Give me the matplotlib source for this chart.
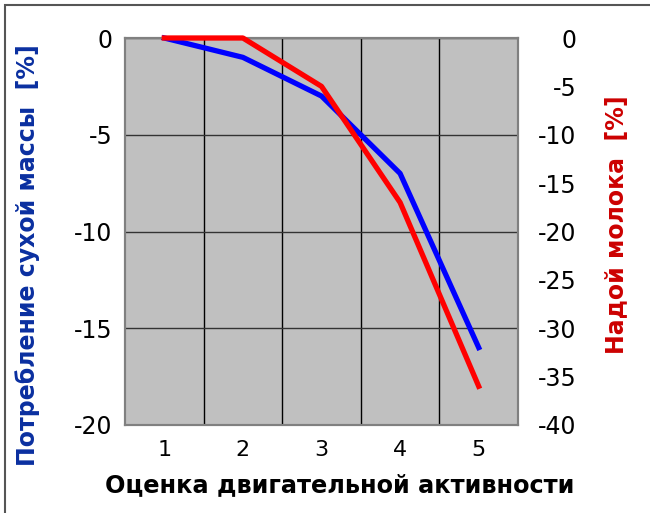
import matplotlib
matplotlib.use('Agg')
import matplotlib.pyplot as plt
from matplotlib.patches import Rectangle

# data
scores = [1, 2, 3, 4, 5]
dry_matter = [0, -1, -3, -7, -16]      # left axis
milk_yield = [0, 0, -5, -17, -36]      # right axis

left_ticks = [0, -5, -10, -15, -20]
right_ticks = [0, -5, -10, -15, -20, -25, -30, -35, -40]

plt.rcParams['font.family'] = ['DejaVu Sans']
plt.rcParams['axes.unicode_minus'] = False

fig = plt.figure(figsize=(6.5, 5.13), dpi=100)
ax = fig.add_axes([125/650, 88/513, 393/650, 387/513])
ax2 = ax.twinx()

ax.set_facecolor('#c0c0c0')
ax.set_xlim(0.5, 5.5)
ax.set_ylim(-20, 0)
ax2.set_ylim(-40, 0)

ax.set_xticks(scores)
ax.set_xticks([1.5, 2.5, 3.5, 4.5], minor=True)
ax.set_yticks(left_ticks)
ax2.set_yticks(right_ticks)

ax.grid(True, which='minor', axis='x', color='black', lw=1)
ax.grid(True, which='major', axis='y', color='#333333', lw=1)
ax.set_axisbelow(True)

ax.tick_params(axis='x', which='both', length=0, pad=11, labelsize=16)
ax.tick_params(axis='y', length=0, pad=9, labelsize=17)
ax2.tick_params(axis='y', length=0, pad=42, labelsize=17)
for t in ax2.get_yticklabels():
    t.set_horizontalalignment('right')

for s in list(ax.spines.values()) + list(ax2.spines.values()):
    s.set_color('#808080')
    s.set_linewidth(1.5)

ax.plot(scores, dry_matter, color='#0000ff', lw=3.8, clip_on=False, zorder=3)
ax2.plot(scores, milk_yield, color='#ff0000', lw=3.8, clip_on=False, zorder=3)

ax.set_xlabel('Оценка двигательной активности', fontsize=17.3, fontweight='bold',
              color='black')
ax.set_ylabel('Потребление сухой массы  [%]', fontsize=17, fontweight='bold',
              color='#0a2fa0')
ax2.set_ylabel('Надой молока  [%]', fontsize=17, fontweight='bold',
               color='#cc0000')
ax.xaxis.set_label_coords(0.547, -0.125)
ax.yaxis.set_label_coords(-0.216, 0.439)
ax2.yaxis.set_label_coords(1.221, 0.517)

fig.patches.append(Rectangle((5/650, -0.1), 1.2, (508/513) + 0.1,
                             transform=fig.transFigure, fill=False,
                             edgecolor='#555555', lw=1.5))

fig.savefig('out.png', dpi=100)
